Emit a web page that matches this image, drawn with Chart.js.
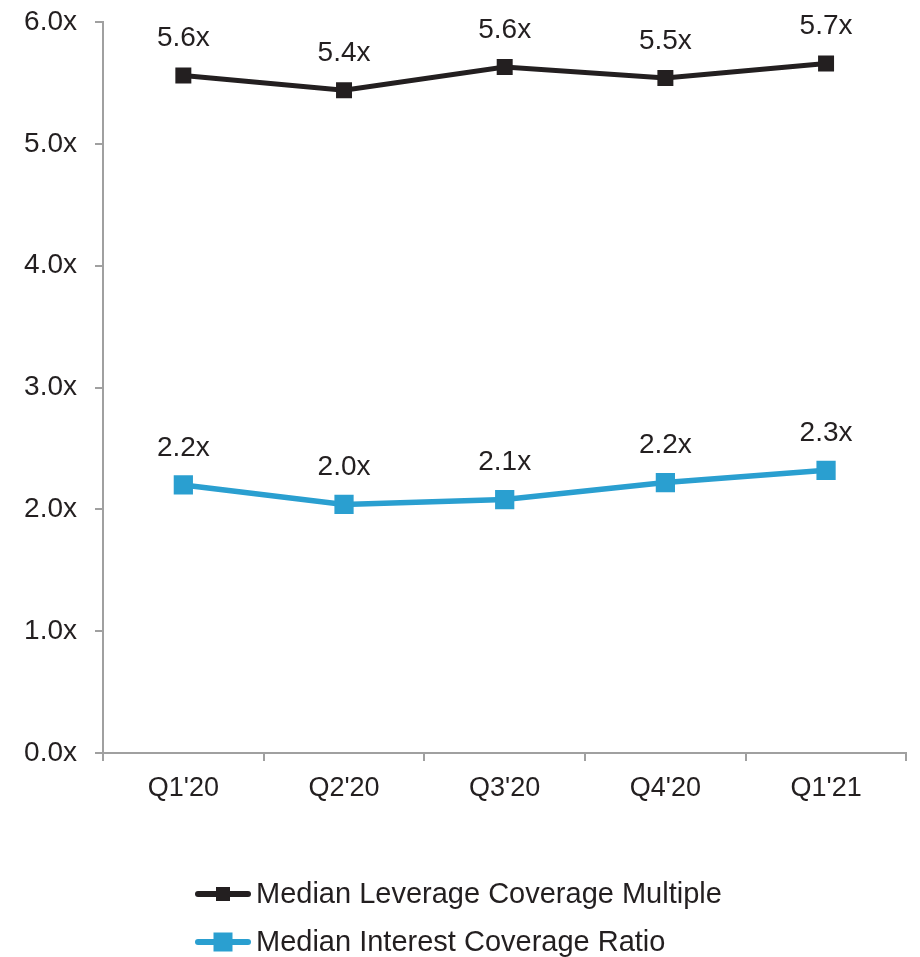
<!DOCTYPE html>
<html><head><meta charset="utf-8">
<script src="https://cdn.jsdelivr.net/npm/chart.js@4.4.1/dist/chart.umd.min.js"></script>
<style>html,body{margin:0;padding:0;background:#fff;overflow:hidden} canvas{display:block}</style>
</head><body><canvas id="c" width="920" height="957" style="width:920px;height:957px"></canvas>
<script>
const categories = ["Q1'20","Q2'20","Q3'20","Q4'20","Q1'21"];
const leverageValues = [5.56, 5.44, 5.63, 5.54, 5.66];
const leverageLabels = ["5.6x","5.4x","5.6x","5.5x","5.7x"];
const interestValues = [2.20, 2.04, 2.08, 2.22, 2.32];
const interestLabels = ["2.2x","2.0x","2.1x","2.2x","2.3x"];
const seriesNames = ["Median Leverage Coverage Multiple","Median Interest Coverage Ratio"];
const yMin = 0, yMax = 6, yStep = 1;

const FONT = "'Liberation Sans', Arial, sans-serif";
const TEXT = '#231f20';
const BLACK = '#231f20';
const BLUE = '#2a9fd0';
const AXIS = '#a0a0a0';

const dataLabelPlugin = {
  id: 'dataLabels',
  afterDatasetsDraw(chart) {
    const ctx = chart.ctx;
    ctx.save();
    ctx.font = '28px ' + FONT;
    ctx.fillStyle = TEXT;
    ctx.textAlign = 'center';
    ctx.textBaseline = 'middle';
    chart.data.datasets.forEach((ds, i) => {
      const meta = chart.getDatasetMeta(i);
      meta.data.forEach((pt, j) => {
        ctx.fillText(ds.valueLabels[j], pt.x, pt.y - 37);
      });
    });
    ctx.restore();
  }
};

const legendPlugin = {
  id: 'customLegend',
  afterDraw(chart) {
    const ctx = chart.ctx;
    const x0 = chart.chartArea.left + 92;
    const y0 = chart.chartArea.bottom + 141;
    ctx.save();
    chart.data.datasets.forEach((ds, i) => {
      const y = y0 + i * 48;
      ctx.strokeStyle = ds.borderColor;
      ctx.lineWidth = 6;
      ctx.lineCap = 'round';
      ctx.beginPath();
      ctx.moveTo(x0 + 3, y);
      ctx.lineTo(x0 + 53, y);
      ctx.stroke();
      const s = ds.legendBox;
      ctx.fillStyle = ds.borderColor;
      ctx.fillRect(x0 + 28 - s / 2, y - s / 2, s, s);
      ctx.fillStyle = TEXT;
      ctx.font = '29px ' + FONT;
      ctx.textAlign = 'left';
      ctx.textBaseline = 'middle';
      ctx.fillText(ds.label, x0 + 61, y + 1);
    });
    ctx.restore();
  }
};

new Chart(document.getElementById('c'), {
  type: 'line',
  data: {
    labels: categories,
    datasets: [
      {
        label: seriesNames[0],
        data: leverageValues,
        valueLabels: leverageLabels,
        borderColor: BLACK,
        backgroundColor: BLACK,
        borderWidth: 5,
        pointStyle: 'rect',
        pointRadius: 11.3,
        pointHoverRadius: 11.3,
        pointBorderWidth: 0,
        legendBox: 14,
        tension: 0
      },
      {
        label: seriesNames[1],
        data: interestValues,
        valueLabels: interestLabels,
        borderColor: BLUE,
        backgroundColor: BLUE,
        borderWidth: 5.5,
        pointStyle: 'rect',
        pointRadius: 13.6,
        pointHoverRadius: 13.6,
        pointBorderWidth: 0,
        legendBox: 19,
        tension: 0
      }
    ]
  },
  options: {
    responsive: false,
    maintainAspectRatio: false,
    devicePixelRatio: 1,
    animation: false,
    events: [],
    layout: { padding: { left: 0, right: 10, top: 22, bottom: 154 } },
    plugins: { legend: { display: false }, tooltip: { enabled: false } },
    scales: {
      x: {
        offset: true,
        grid: { display: true, drawOnChartArea: false, drawTicks: true, tickLength: 8, color: AXIS, lineWidth: 2, offset: true },
        border: { display: true, color: AXIS, width: 2 },
        ticks: { color: TEXT, font: { family: FONT, size: 27 }, padding: 11, maxRotation: 0 },
        afterFit(s) { s.height = 50; s.paddingLeft = 0; s.paddingRight = 0; }
      },
      y: {
        min: yMin, max: yMax,
        grid: { display: true, drawOnChartArea: false, drawTicks: true, tickLength: 8, color: AXIS, lineWidth: 2 },
        border: { display: true, color: AXIS, width: 2 },
        ticks: { stepSize: yStep, color: TEXT, font: { family: FONT, size: 28 }, padding: 18,
                 callback: v => v.toFixed(1) + 'x' },
        afterFit(s) { s.width = 103; s.paddingTop = 0; s.paddingBottom = 0; }
      }
    }
  },
  plugins: [dataLabelPlugin, legendPlugin]
});
</script></body></html>
